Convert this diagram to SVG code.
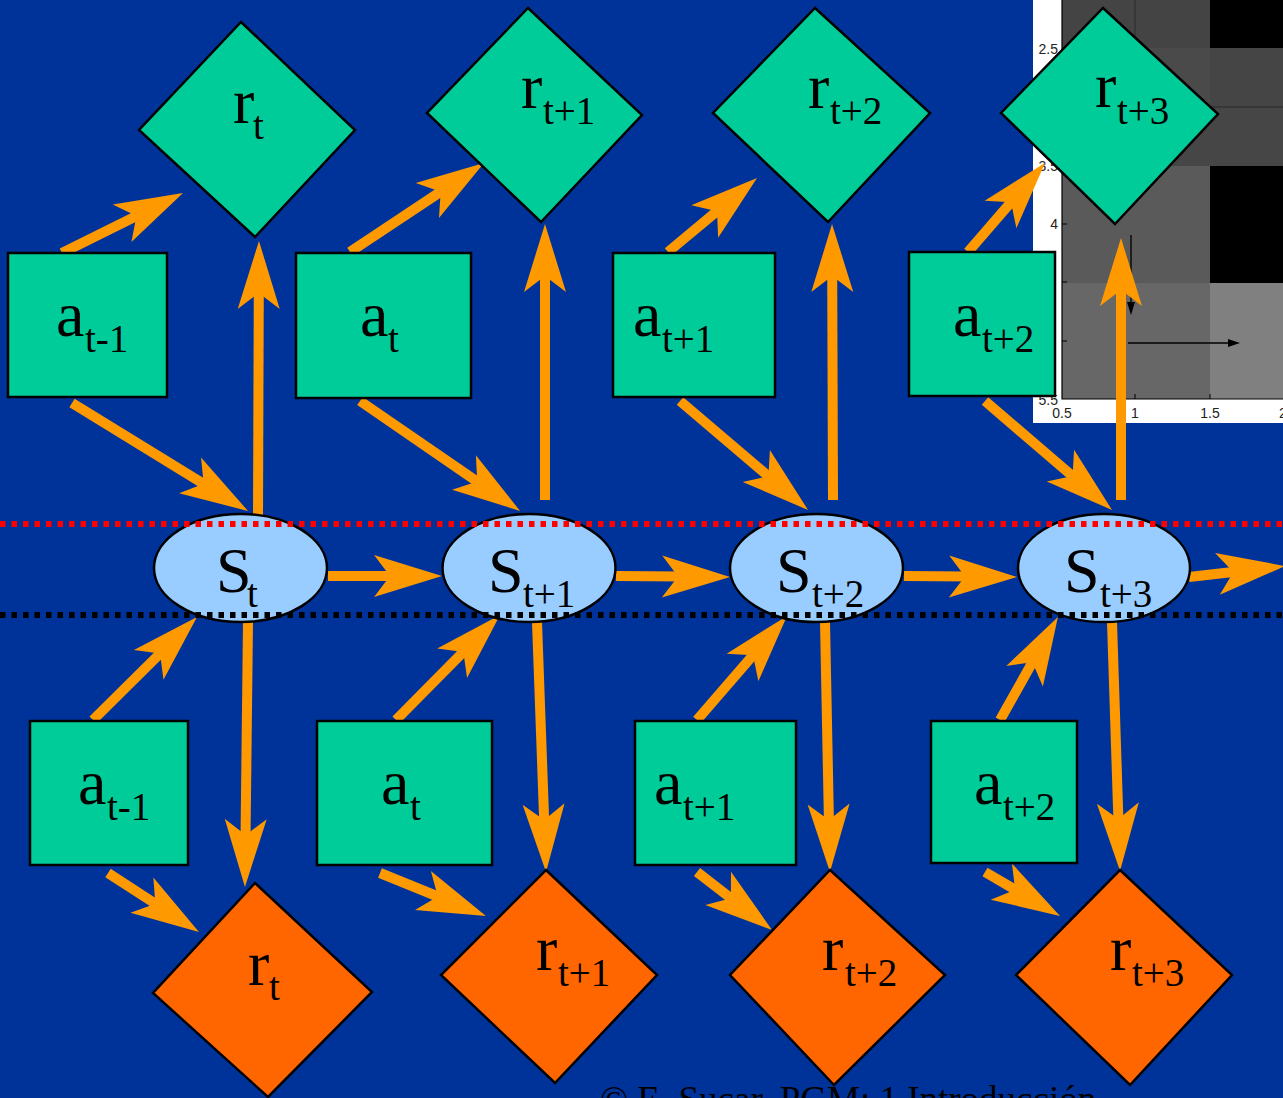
<svg xmlns="http://www.w3.org/2000/svg" width="1283" height="1098" viewBox="0 0 1283 1098">
<defs>
<style>
.box{fill:#00CC99;stroke:#000;stroke-width:2.5}
.rg{fill:#00CC99;stroke:#000;stroke-width:2.5}
.ro{fill:#FF6600;stroke:#000;stroke-width:2.5}
.st{fill:#99CCFF;stroke:#000;stroke-width:2.5}
.m{font-family:"Liberation Serif","Times New Roman",serif;font-size:64px;fill:#000}
.s{font-size:39px}
.ax{font-family:"Liberation Sans",Arial,sans-serif;font-size:14px;fill:#222}
.c line{stroke:#FF9900;stroke-width:10;fill:none;marker-end:url(#ah)}
</style>
<marker id="ah" viewBox="0 0 68 42" markerUnits="userSpaceOnUse" markerWidth="68" markerHeight="42" refX="20" refY="21" orient="auto" overflow="visible">
<path d="M0,0 L68,21 L0,42 L16,21 Z" fill="#FF9900"/>
</marker>
</defs>
<rect x="0" y="0" width="1283" height="1098" fill="#003399"/>

<g id="plot">
<rect x="1033" y="0" width="250" height="423" fill="#fff"/>
<rect x="1062" y="0" width="148" height="48" fill="#444"/>
<rect x="1210" y="0" width="73" height="48" fill="#000"/>
<rect x="1062" y="48" width="148" height="59" fill="#4a4a4a"/>
<rect x="1210" y="48" width="73" height="59" fill="#454545"/>
<rect x="1062" y="107" width="221" height="59" fill="#464646"/>
<rect x="1062" y="166" width="148" height="117" fill="#5a5a5a"/>
<rect x="1210" y="166" width="73" height="117" fill="#000"/>
<rect x="1062" y="283" width="148" height="116" fill="#676767"/>
<rect x="1210" y="283" width="73" height="116" fill="#808080"/>
<line x1="1135" y1="0" x2="1135" y2="48" stroke="#333" stroke-width="1.5"/>
<line x1="1062" y1="107" x2="1283" y2="107" stroke="#333" stroke-width="1.5"/>
<path d="M1062,0 V399 H1283" fill="none" stroke="#000" stroke-width="1.2"/>
<path d="M1062,49 h5 M1062,107 h5 M1062,166 h5 M1062,224 h5 M1062,282 h5 M1062,341 h5 M1135,399 v-5 M1210,399 v-5" stroke="#000" stroke-width="1"/>
<text class="ax" x="1058" y="54" text-anchor="end">2.5</text>
<text class="ax" x="1058" y="171" text-anchor="end">3.5</text>
<text class="ax" x="1058" y="229" text-anchor="end">4</text>
<text class="ax" x="1058" y="405" text-anchor="end">5.5</text>
<text class="ax" x="1062" y="418" text-anchor="middle">0.5</text>
<text class="ax" x="1135" y="418" text-anchor="middle">1</text>
<text class="ax" x="1210" y="418" text-anchor="middle">1.5</text>
<text class="ax" x="1283" y="418" text-anchor="middle">2</text>
<line x1="1131" y1="235" x2="1131" y2="305" stroke="#000" stroke-width="1.3"/>
<polygon points="1127,302 1135,302 1131,315" fill="#000"/>
<line x1="1128" y1="343" x2="1230" y2="343" stroke="#000" stroke-width="1.3"/>
<polygon points="1228,339 1228,347 1240,343" fill="#000"/>
</g>

<g id="connectors" class="c">
<line x1="62" y1="253" x2="140.0" y2="214.3"/>
<line x1="72" y1="403" x2="207.1" y2="485.9"/>
<line x1="258" y1="517" x2="258.8" y2="289"/>
<line x1="350" y1="252" x2="444.0" y2="189.5"/>
<line x1="360" y1="401" x2="480.5" y2="483.8"/>
<line x1="545" y1="500" x2="545" y2="272"/>
<line x1="668" y1="252" x2="720.1" y2="208.7"/>
<line x1="680" y1="401" x2="771.5" y2="478.9"/>
<line x1="833" y1="500" x2="832.2" y2="272"/>
<line x1="968" y1="252" x2="1013.6" y2="199.3"/>
<line x1="985" y1="401" x2="1075.6" y2="478.7"/>
<line x1="1121" y1="500" x2="1121" y2="286"/>
<line x1="328" y1="576" x2="394" y2="576"/>
<line x1="616" y1="576" x2="682" y2="576.6"/>
<line x1="904" y1="576" x2="969" y2="576.6"/>
<line x1="1189" y1="577" x2="1237.3" y2="571.5"/>
<line x1="93" y1="720" x2="162.9" y2="650.8"/>
<line x1="248" y1="622" x2="245.5" y2="839"/>
<line x1="108" y1="873" x2="158.7" y2="905.9"/>
<line x1="396" y1="720" x2="466.2" y2="649.1"/>
<line x1="537" y1="622" x2="544.3" y2="824"/>
<line x1="380" y1="873" x2="441.5" y2="898"/>
<line x1="697" y1="720" x2="755.6" y2="652.3"/>
<line x1="825" y1="622" x2="829" y2="824"/>
<line x1="697" y1="872" x2="734" y2="900.6"/>
<line x1="1000" y1="720" x2="1034.4" y2="658.8"/>
<line x1="1112" y1="622" x2="1118.5" y2="823"/>
<line x1="985" y1="872" x2="1018.6" y2="891.7"/>
</g>

<g id="r_top_0"><polygon class="rg" points="241,22 355,130 255,237 139,130"/><text class="m" x="233" y="123">r<tspan class="s" x="253" y="139">t</tspan></text></g>
<g id="r_top_1"><polygon class="rg" points="528,8 642,115 541,222 427,113"/><text class="m" x="521" y="108">r<tspan class="s" x="543" y="124">t+1</tspan></text></g>
<g id="r_top_2"><polygon class="rg" points="815,8 930,113 828,222 713,113"/><text class="m" x="808" y="108">r<tspan class="s" x="830" y="124">t+2</tspan></text></g>
<g id="r_top_3"><polygon class="rg" points="1103,8 1218,114 1115,224 1001,113"/><text class="m" x="1095" y="107">r<tspan class="s" x="1117" y="124">t+3</tspan></text></g>

<g id="a_top_0"><rect class="box" x="8" y="253" width="159" height="144"/><text class="m" x="56" y="336">a<tspan class="s" x="85" y="352">t-1</tspan></text></g>
<g id="a_top_1"><rect class="box" x="296" y="253" width="175" height="145"/><text class="m" x="360" y="336">a<tspan class="s" x="388" y="352">t</tspan></text></g>
<g id="a_top_2"><rect class="box" x="613" y="253" width="162" height="144"/><text class="m" x="633" y="336">a<tspan class="s" x="662" y="352">t+1</tspan></text></g>
<g id="a_top_3"><rect class="box" x="909" y="252" width="146" height="144"/><text class="m" x="953" y="336">a<tspan class="s" x="982" y="352">t+2</tspan></text></g>

<g id="s_0"><ellipse class="st" cx="240.5" cy="568" rx="86.5" ry="54"/><text class="m" x="216" y="592">S<tspan class="s" x="247" y="607">t</tspan></text></g>
<g id="s_1"><ellipse class="st" cx="529" cy="568" rx="86.5" ry="54"/><text class="m" x="488" y="592">S<tspan class="s" x="523" y="607">t+1</tspan></text></g>
<g id="s_2"><ellipse class="st" cx="816.5" cy="568" rx="86.5" ry="54"/><text class="m" x="776" y="592">S<tspan class="s" x="812" y="607">t+2</tspan></text></g>
<g id="s_3"><ellipse class="st" cx="1104" cy="568" rx="86" ry="54"/><text class="m" x="1064" y="592">S<tspan class="s" x="1100" y="607">t+3</tspan></text></g>

<g id="a_bot_0"><rect class="box" x="30" y="721" width="158" height="144"/><text class="m" x="78" y="804">a<tspan class="s" x="107" y="820">t-1</tspan></text></g>
<g id="a_bot_1"><rect class="box" x="317" y="721" width="175" height="144"/><text class="m" x="381" y="804">a<tspan class="s" x="410" y="820">t</tspan></text></g>
<g id="a_bot_2"><rect class="box" x="635" y="721" width="161" height="144"/><text class="m" x="654" y="804">a<tspan class="s" x="683" y="820">t+1</tspan></text></g>
<g id="a_bot_3"><rect class="box" x="931" y="721" width="146" height="142"/><text class="m" x="974" y="804">a<tspan class="s" x="1003" y="820">t+2</tspan></text></g>

<g id="r_bot_0"><polygon class="ro" points="255,883 372,992 268,1097 153,993"/><text class="m" x="248" y="985">r<tspan class="s" x="269" y="1000">t</tspan></text></g>
<g id="r_bot_1"><polygon class="ro" points="546,870 657,975 555,1083 441,975"/><text class="m" x="536" y="970">r<tspan class="s" x="558" y="986">t+1</tspan></text></g>
<g id="r_bot_2"><polygon class="ro" points="830,870 945,975 834,1085 730,975"/><text class="m" x="822" y="970">r<tspan class="s" x="845" y="986">t+2</tspan></text></g>
<g id="r_bot_3"><polygon class="ro" points="1120,870 1232,975 1130,1085 1016,975"/><text class="m" x="1110" y="970">r<tspan class="s" x="1132" y="986">t+3</tspan></text></g>

<g id="dotted">
<line x1="0" y1="524" x2="1283" y2="524" stroke="#FF0000" stroke-width="6" stroke-dasharray="5.5 6"/>
<line x1="0" y1="615" x2="1283" y2="615" stroke="#000" stroke-width="6" stroke-dasharray="5.5 6"/>
</g>

<text x="600" y="1112" font-family="'Liberation Serif','Times New Roman',serif" font-size="37" fill="#000">© E. Sucar, PGM: 1 Introducción</text>
</svg>
